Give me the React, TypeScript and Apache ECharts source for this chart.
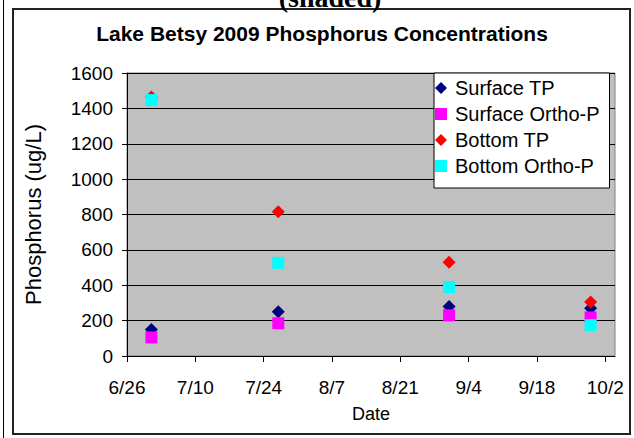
import React, { useEffect, useRef } from "react";
import * as echarts from "echarts";

const baseDate = "2009-06-26";
const axisEndDate = "2009-10-04";
const sampleDates = ["2009-07-01", "2009-07-27", "2009-08-31", "2009-09-29"];
const xTickDates = [
  "2009-06-26",
  "2009-07-10",
  "2009-07-24",
  "2009-08-07",
  "2009-08-21",
  "2009-09-04",
  "2009-09-18",
  "2009-10-02",
];
const xTickLabels = ["6/26", "7/10", "7/24", "8/7", "8/21", "9/4", "9/18", "10/2"];

const surfaceTP = [150, 250, 280, 270];
const surfaceOrthoP = [105, 185, 230, 218];
const bottomTP = [1465, 816, 530, 305];
const bottomOrthoP = [1447, 527, 390, 174];

const seriesNames = ["Surface TP", "Surface Ortho-P", "Bottom TP", "Bottom Ortho-P"];
const seriesColors = ["#000080", "#FF00FF", "#FF0000", "#00FFFF"];

const FONT = "Liberation Sans, Arial, sans-serif";

const dayOf = (d: string) => (Date.parse(d) - Date.parse(baseDate)) / 86400000;

function buildOption() {
  const tickValues = xTickDates.map(dayOf);
  const labelFor = (v: number) => {
    const i = tickValues.indexOf(v);
    return i >= 0 ? xTickLabels[i] : "";
  };
  const values = [surfaceTP, surfaceOrthoP, bottomTP, bottomOrthoP];
  const symbols = ["diamond", "rect", "diamond", "rect"];
  const sizes = [13, 12, 13, 12];

  return {
    animation: false,
    backgroundColor: "#ffffff",
    title: {
      text: "Lake Betsy 2009 Phosphorus Concentrations",
      left: 322,
      top: 23,
      textAlign: "center",
      padding: 0,
      textStyle: {
        fontFamily: FONT,
        fontSize: 21,
        fontWeight: "bold",
        color: "#000",
      },
    },
    legend: {
      orient: "vertical",
      left: 434,
      top: 73,
      padding: [5, 10, 12, 1],
      itemGap: 6,
      itemWidth: 12,
      itemHeight: 12,
      backgroundColor: "#ffffff",
      borderColor: "#000000",
      borderWidth: 1,
      textStyle: {
        fontFamily: FONT,
        fontSize: 20,
        color: "#000",
        lineHeight: 20,
        padding: [0, 0, 0, 3],
      },
      data: seriesNames.map((n, i) => ({ name: n, icon: symbols[i] })),
    },
    grid: {
      left: 127,
      top: 73,
      right: 19,
      bottom: 82,
      show: true,
      backgroundColor: "#C0C0C0",
      borderColor: "#808080",
      borderWidth: 1,
    },
    xAxis: {
      type: "value",
      min: 0,
      max: dayOf(axisEndDate),
      name: "Date",
      nameLocation: "middle",
      nameGap: 49,
      nameTextStyle: { fontFamily: FONT, fontSize: 18, color: "#000" },
      axisLine: { show: true, onZero: false, lineStyle: { color: "#000", width: 1 } },
      axisTick: {
        show: true,
        inside: false,
        length: 6,
        customValues: tickValues,
        lineStyle: { color: "#000" },
      },
      axisLabel: {
        customValues: tickValues,
        formatter: (v: number) => labelFor(v),
        margin: 22,
        fontFamily: FONT,
        fontSize: 19,
        color: "#000",
      },
      splitLine: { show: false },
    },
    yAxis: {
      type: "value",
      min: 0,
      max: 1600,
      interval: 200,
      name: "Phosphorus (ug/L)",
      nameLocation: "middle",
      nameGap: 83,
      nameTextStyle: { fontFamily: FONT, fontSize: 22, color: "#000" },
      axisLine: { show: true, lineStyle: { color: "#000", width: 1 } },
      axisTick: { show: true, inside: false, length: 5, lineStyle: { color: "#000" } },
      axisLabel: {
        margin: 14,
        fontFamily: FONT,
        fontSize: 19,
        color: "#000",
        formatter: (v: number) => String(v),
      },
      splitLine: { show: true, lineStyle: { color: "#000", width: 1 } },
    },
    graphic: [
      {
        type: "line",
        shape: { x1: 3.5, y1: 0, x2: 3.5, y2: 438 },
        style: { stroke: "#000", lineWidth: 1 },
        silent: true,
      },
      {
        type: "rect",
        shape: { x: 13, y: 9, width: 617, height: 425 },
        style: { fill: "none", stroke: "#222", lineWidth: 2 },
        silent: true,
        z: -1,
      },
      {
        type: "text",
        x: 330,
        y: 11,
        style: {
          text: "(shaded)",
          font: 'bold 28px "Liberation Serif", "Times New Roman", serif',
          fill: "#000",
          textAlign: "center",
          textVerticalAlign: "bottom",
        },
        silent: true,
      },
    ],
    series: seriesNames.map((n, i) => ({
      name: n,
      type: "scatter",
      symbol: symbols[i],
      symbolSize: sizes[i],
      itemStyle: { color: seriesColors[i], opacity: 1 },
      data: sampleDates.map((d, j) => [dayOf(d), values[i][j]]),
      z: 2 + i,
    })),
  };
}

export default function App() {
  const ref = useRef<HTMLDivElement>(null);
  useEffect(() => {
    if (!ref.current) return;
    const chart = echarts.init(ref.current, null, { renderer: "svg" });
    chart.setOption(buildOption() as any);
    return () => chart.dispose();
  }, []);
  return (
    <div
      ref={ref}
      style={{ position: "fixed", left: 0, top: 0, width: 634, height: 438, background: "#fff" }}
    />
  );
}
